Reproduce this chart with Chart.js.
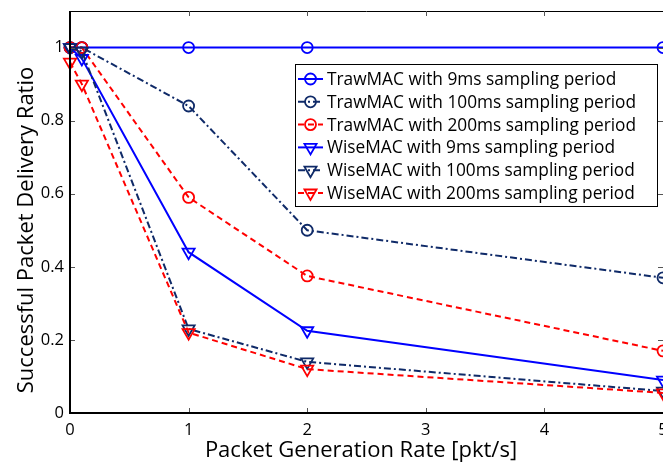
<!DOCTYPE html>
<html>
<head>
<meta charset="utf-8">
<script src="https://cdn.jsdelivr.net/npm/chart.js@4/dist/chart.umd.min.js"></script>
<style>
    html, body { margin: 0; padding: 0; background: #fff; overflow: hidden; }
</style>
</head>
<body>
<canvas id="chart" width="663" height="464"></canvas>
<script>
// packet generation rate [pkt/s]
const rates = [0, 0.1, 1, 2, 5];

// delivery ratio per protocol / sampling period
const trawMac9 = [1, 1, 1, 1, 1];
const trawMac100 = [1, 1, 0.84, 0.50, 0.37];
const trawMac200 = [1, 1, 0.59, 0.375, 0.17];
const wiseMac9 = [1, 0.97, 0.44, 0.225, 0.09];
const wiseMac100 = [1, 0.99, 0.23, 0.14, 0.06];
const wiseMac200 = [0.96, 0.90, 0.22, 0.12, 0.055];

const seriesNames = [
    'TrawMAC with 9ms sampling period',
    'TrawMAC with 100ms sampling period',
    'TrawMAC with 200ms sampling period',
    'WiseMAC with 9ms sampling period',
    'WiseMAC with 100ms sampling period',
    'WiseMAC with 200ms sampling period'
];

const xTicks = [0, 1, 2, 3, 4, 5];
const yTicks = [0, 0.2, 0.4, 0.6, 0.8, 1];

const xTitle = 'Packet Generation Rate [pkt/s]';
const yTitle = 'Successful Packet Delivery Ratio';

const BLUE = '#0000ff';
const NAVY = '#0f2a68';
const RED = '#ff0000';
const FONT = '"Open Sans", sans-serif';

const dashDot = [7, 3, 2, 3];
const dashed = [6, 4];

function makeSet(i, values, color, dash, marker) {
    return {
        label: seriesNames[i],
        data: values.map((v, k) => ({ x: rates[k], y: v })),
        borderColor: color,
        borderWidth: 2,
        borderDash: dash,
        pointStyle: marker === 'circle' ? 'circle' : 'triangle',
        pointRotation: marker === 'circle' ? 0 : 180,
        pointRadius: marker === 'circle' ? 5.5 : 7,
        pointBorderWidth: 1.8,
        pointBorderColor: color,
        pointBackgroundColor: 'rgba(0,0,0,0)',
        tension: 0,
        fill: false,
        clip: false,
        order: 6 - i
    };
}

const datasets = [
    makeSet(0, trawMac9, BLUE, [], 'circle'),
    makeSet(1, trawMac100, NAVY, dashDot, 'circle'),
    makeSet(2, trawMac200, RED, dashed, 'circle'),
    makeSet(3, wiseMac9, BLUE, [], 'tri'),
    makeSet(4, wiseMac100, NAVY, dashDot, 'tri'),
    makeSet(5, wiseMac200, RED, dashed, 'tri')
];

// box around the plot with inward ticks (right edge falls off the picture)
const framePlugin = {
    id: 'frame',
    afterDatasetsDraw(chart) {
        const { ctx, chartArea: a, scales } = chart;
        ctx.save();
        ctx.strokeStyle = '#000';
        ctx.lineWidth = 1;
        ctx.beginPath();
        ctx.moveTo(a.left, a.top + 0.5);
        ctx.lineTo(a.right, a.top + 0.5);
        ctx.stroke();

        ctx.lineWidth = 1;
        ctx.strokeStyle = '#555';
        ctx.beginPath();
        xTicks.forEach(v => {
            const px = Math.round(scales.x.getPixelForValue(v)) + 0.5;
            ctx.moveTo(px, a.bottom);
            ctx.lineTo(px, a.bottom - 5);
            ctx.moveTo(px, a.top);
            ctx.lineTo(px, a.top + 5);
        });
        yTicks.forEach(v => {
            const py = Math.round(scales.y.getPixelForValue(v)) + 0.5;
            ctx.moveTo(a.left, py);
            ctx.lineTo(a.left + 5, py);
            ctx.moveTo(a.right, py);
            ctx.lineTo(a.right - 5, py);
        });
        ctx.stroke();

        ctx.strokeStyle = '#000';
        ctx.lineWidth = 2;
        ctx.beginPath();
        ctx.moveTo(a.left, a.top);
        ctx.lineTo(a.left, a.bottom);
        ctx.lineTo(a.right, a.bottom);
        ctx.stroke();
        ctx.restore();
    }
};

const titlesPlugin = {
    id: 'titles',
    afterDraw(chart) {
        const ctx = chart.ctx;
        ctx.save();
        ctx.fillStyle = '#000';
        ctx.font = '22px ' + FONT;
        ctx.textAlign = 'center';
        ctx.textBaseline = 'alphabetic';
        ctx.fillText(xTitle, 361, 457);
        ctx.translate(33, 230);
        ctx.rotate(-Math.PI / 2);
        ctx.fillText(yTitle, 0, 0);
        ctx.restore();
    }
};

const legendPlugin = {
    id: 'boxLegend',
    afterDraw(chart) {
        const ctx = chart.ctx;
        const left = 295, top = 64, right = 657, bottom = 206;
        const rowH = 22.8;
        ctx.save();
        ctx.fillStyle = '#fff';
        ctx.fillRect(left, top, right - left, bottom - top);
        ctx.strokeStyle = '#000';
        ctx.lineWidth = 1;
        ctx.strokeRect(left + 0.5, top + 0.5, right - left, bottom - top);

        datasets.forEach((ds, i) => {
            const cy = top + 15 + i * rowH;
            ctx.save();
            ctx.strokeStyle = ds.borderColor;
            ctx.fillStyle = 'rgba(0,0,0,0)';
            ctx.lineWidth = 2;
            ctx.setLineDash(ds.borderDash);
            ctx.beginPath();
            ctx.moveTo(298, cy);
            ctx.lineTo(323, cy);
            ctx.stroke();
            ctx.setLineDash([]);
            ctx.lineWidth = ds.pointBorderWidth;
            Chart.helpers.drawPoint(ctx, {
                pointStyle: ds.pointStyle,
                rotation: ds.pointRotation,
                radius: ds.pointRadius,
                borderWidth: ds.pointBorderWidth
            }, 310.5, cy);
            ctx.restore();

            ctx.fillStyle = '#000';
            ctx.font = '17.3px ' + FONT;
            ctx.textAlign = 'left';
            ctx.textBaseline = 'middle';
            ctx.fillText(ds.label, 327, cy + 1);
        });
        ctx.restore();
    }
};

const fmtTick = v => String(Math.round(v * 10) / 10);

new Chart(document.getElementById('chart'), {
    type: 'line',
    data: { datasets: datasets },
    options: {
        responsive: false,
        animation: false,
        layout: {
            autoPadding: false,
            padding: { left: 0, top: 11, right: 0, bottom: 0 }
        },
        plugins: {
            legend: { display: false },
            tooltip: { enabled: false }
        },
        scales: {
            x: {
                type: 'linear',
                min: 0,
                max: 5,
                afterFit: s => { s.height = 51; s.paddingLeft = 0; s.paddingRight = 0; },
                afterBuildTicks: s => { s.ticks = xTicks.map(v => ({ value: v })); },
                grid: { display: false, drawTicks: false },
                border: { display: false },
                ticks: {
                    padding: 7,
                    color: '#000',
                    font: { family: FONT, size: 16.5 },
                    maxRotation: 0,
                    callback: fmtTick
                }
            },
            y: {
                type: 'linear',
                min: 0,
                max: 1.1,
                afterFit: s => { s.width = 70; s.paddingTop = 0; s.paddingBottom = 0; },
                afterBuildTicks: s => { s.ticks = yTicks.map(v => ({ value: v })); },
                grid: { display: false, drawTicks: false },
                border: { display: false },
                ticks: {
                    padding: 6,
                    color: '#000',
                    font: { family: FONT, size: 16.5 },
                    callback: fmtTick
                }
            }
        }
    },
    plugins: [framePlugin, titlesPlugin, legendPlugin]
});
</script>
</body>
</html>
